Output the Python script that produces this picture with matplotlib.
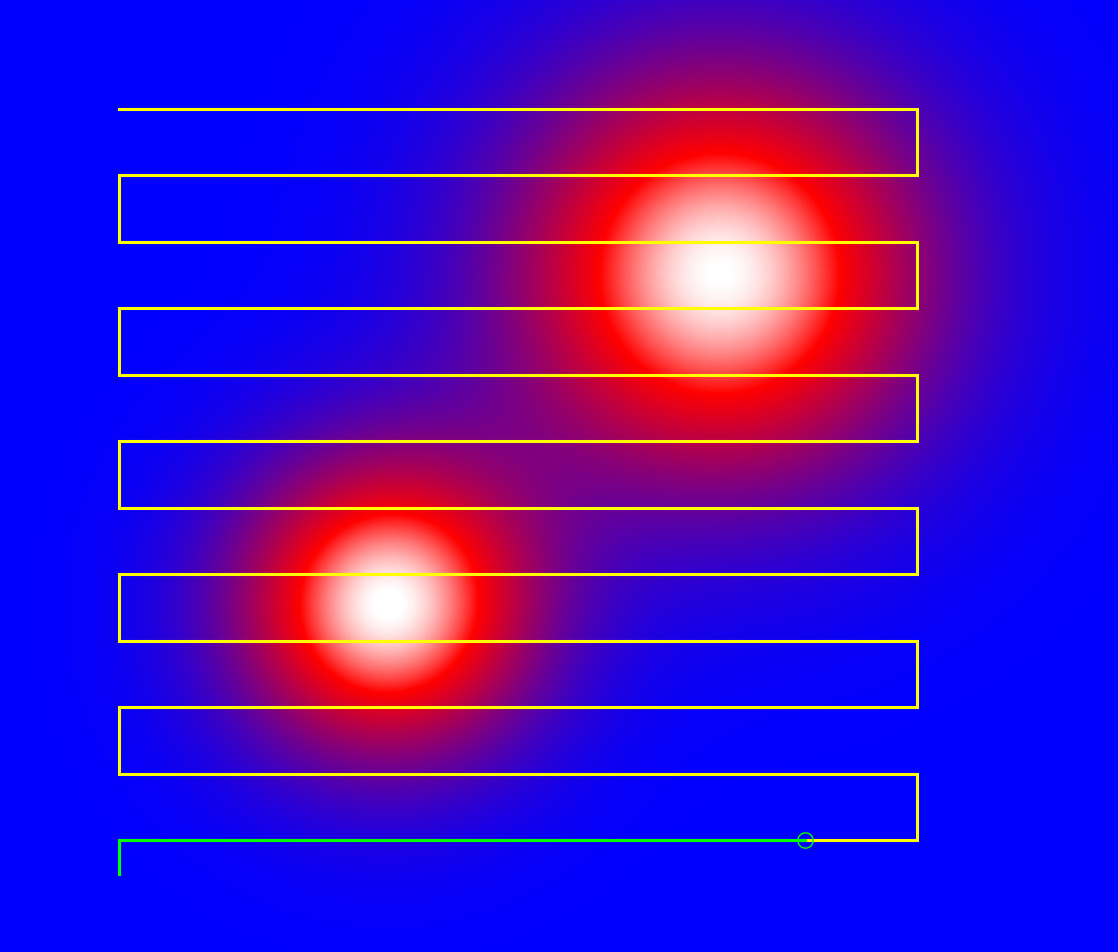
import numpy as np
import matplotlib
matplotlib.use("Agg")
import matplotlib.pyplot as plt
from matplotlib.colors import LinearSegmentedColormap

# --- data ---
blob_x = [90.4, 40.3]
blob_y = [85.3, 35.3]
blob_sigma = [22.3, 16.2]
blob_amp = [1.0, 1.0]

lane_y = [0, 10, 20, 30, 40, 50, 60, 70, 80, 90, 100, 110]
lane_x_min = 0
lane_x_max = 120
start_point = (0, -5)
current_x = 103.2

x_range = (-17.9, 150.2)
y_range = (-16.8, 126.5)

# --- field ---
xs = np.linspace(x_range[0], x_range[1], 700)
ys = np.linspace(y_range[0], y_range[1], 600)
X, Y = np.meshgrid(xs, ys)
Z = np.zeros_like(X)
for bx, by, s, a in zip(blob_x, blob_y, blob_sigma, blob_amp):
    Z += a * np.exp(-((X - bx) ** 2 + (Y - by) ** 2) / (2 * s ** 2))

cmap = LinearSegmentedColormap.from_list(
    "bwr_hot", [(0.0, (0, 0, 1)), (0.72, (1, 0, 0)), (1.0, (1, 1, 1))])

# --- path ---
px = [start_point[0]]
py = [start_point[1]]
for i, yv in enumerate(lane_y):
    if i % 2 == 0:
        px += [lane_x_min, lane_x_max]
    else:
        px += [lane_x_max, lane_x_min]
    py += [yv, yv]

fig = plt.figure(figsize=(11.18, 9.53), dpi=100)
ax = fig.add_axes([0, 0, 1, 1])
ax.imshow(Z, cmap=cmap, vmin=0, vmax=1, origin="lower",
          extent=[x_range[0], x_range[1], y_range[0], y_range[1]],
          interpolation="bilinear", aspect="auto")
ax.plot(px, py, color="#ffff00", lw=2.2, solid_joinstyle="miter")
ax.plot([start_point[0], lane_x_min, current_x],
        [start_point[1], lane_y[0], lane_y[0]],
        color="#00ff00", lw=2.2, solid_joinstyle="miter")
ax.plot([current_x], [lane_y[0]], marker="o", markersize=11,
        markerfacecolor="none", markeredgecolor="#00ff00", markeredgewidth=1.0)
ax.set_xlim(*x_range)
ax.set_ylim(*y_range)
ax.axis("off")
fig.savefig("out.png", dpi=100)
